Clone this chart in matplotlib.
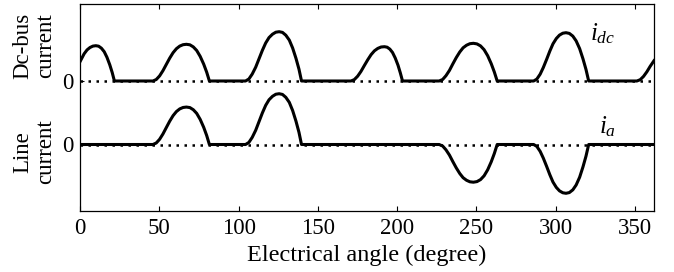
import matplotlib
matplotlib.use("Agg")
import matplotlib.pyplot as plt
import numpy as np

# ---------------- data ----------------
# x in electrical degrees, y in arbitrary current units
hump1_x = [0.0, 2.6, 4.45, 6.3, 8.15, 10.0, 11.76, 13.5, 15.27, 17.0, 18.78, 20.3, 21.7]
hump1_y = [1.93, 2.72, 3.11, 3.35, 3.49, 3.53, 3.48, 3.28, 2.93, 2.37, 1.62, 0.85, 0.0]

hump2_x = [46.0, 48.1, 50.2, 52.3, 54.4, 56.55, 58.7, 60.8, 62.9, 65.0, 67.1,
           69.3, 71.45, 73.6, 75.8, 78.0, 79.9, 81.6]
hump2_y = [0.0, 0.15, 0.51, 1.03, 1.65, 2.28, 2.83, 3.23, 3.49, 3.63, 3.67,
           3.62, 3.41, 3.05, 2.46, 1.69, 0.88, 0.0]

hump3_x = [104.4, 106.5, 108.6, 110.8, 112.9, 115.0, 117.1, 119.2, 121.4, 123.5, 125.6,
           127.7, 129.8, 132.0, 134.1, 136.2, 138.1, 139.7]
hump3_y = [0.0, 0.20, 0.69, 1.38, 2.22, 3.06, 3.80, 4.34, 4.68, 4.88, 4.93,
           4.86, 4.58, 4.09, 3.30, 2.27, 1.18, 0.0]

hump4_x = [170.9, 173.0, 175.1, 177.2, 179.3, 181.5, 183.6, 185.7, 187.8, 189.9, 192.0,
           193.7, 195.4, 197.1, 198.8, 200.55, 202.0, 203.4]
hump4_y = [0.0, 0.14, 0.48, 0.96, 1.54, 2.13, 2.64, 3.02, 3.26, 3.40, 3.43,
           3.38, 3.19, 2.85, 2.30, 1.58, 0.82, 0.0]

hump5_x = [226.5, 228.7, 230.8, 233.0, 235.1, 237.3, 239.5, 241.6, 243.8, 245.9, 248.1,
           250.35, 252.6, 254.85, 257.1, 259.35, 261.3, 263.1]
hump5_y = [0.0, 0.15, 0.53, 1.06, 1.70, 2.34, 2.90, 3.32, 3.58, 3.73, 3.77,
           3.71, 3.51, 3.13, 2.53, 1.73, 0.90, 0.0]

hump6_x = [286.1, 288.1, 290.2, 292.2, 294.3, 296.3, 298.3, 300.4, 302.4, 304.5, 306.5,
           308.6, 310.8, 312.9, 315.1, 317.2, 319.1, 320.8]
hump6_y = [0.0, 0.19, 0.68, 1.35, 2.17, 2.99, 3.72, 4.25, 4.59, 4.78, 4.83,
           4.76, 4.49, 4.01, 3.24, 2.22, 1.16, 0.0]

hump7_x = [351.2, 353.3, 355.4, 357.5, 359.6, 362.0]
hump7_y = [0.0, 0.13, 0.46, 0.92, 1.47, 2.03]

# line current: +idc during humps 2,3 ; -idc during humps 5,6
ia_scale = [1.02, 1.03, -1.0, -1.01]

x_ticks = [0, 50, 100, 150, 200, 250, 300, 350]
x_limits = (0, 362)

# ---------------- build series ----------------
dc_offset = 6.35  # vertical offset of the dc-bus trace

idc_x = np.concatenate([hump1_x, hump2_x, hump3_x, hump4_x, hump5_x, hump6_x, hump7_x])
idc_y = np.concatenate([hump1_y, hump2_y, hump3_y, hump4_y, hump5_y, hump6_y, hump7_y])

ia_x = np.concatenate([[0.0], hump2_x, hump3_x, hump5_x, hump6_x, [362.0]])
ia_y = np.concatenate([[0.0],
                       np.array(hump2_y) * ia_scale[0],
                       np.array(hump3_y) * ia_scale[1],
                       np.array(hump5_y) * ia_scale[2],
                       np.array(hump6_y) * ia_scale[3],
                       [0.0]])

# ---------------- figure ----------------
plt.rcParams['font.family'] = ['Liberation Serif', 'DejaVu Serif']
plt.rcParams['mathtext.fontset'] = 'custom'
plt.rcParams['mathtext.it'] = 'Liberation Serif:italic'
plt.rcParams['mathtext.rm'] = 'Liberation Serif'

fig = plt.figure(figsize=(6.74, 2.72), dpi=100)
ax = fig.add_axes([80 / 674, 1 - 211 / 272, (654 - 80) / 674, (211 - 4) / 272])

# dotted zero lines
ax.plot(x_limits, [dc_offset, dc_offset], color='black', lw=1.8,
        linestyle=(0, (1, 2.2)), dash_capstyle='butt')
ax.plot(x_limits, [0, 0], color='black', lw=1.8,
        linestyle=(0, (1, 2.2)), dash_capstyle='butt')

# traces
ax.plot(idc_x, idc_y + dc_offset, color='black', lw=2.2, solid_joinstyle='round')
ax.plot(ia_x, ia_y, color='black', lw=2.2, solid_joinstyle='round')

ax.set_xlim(*x_limits)
ax.set_ylim(-6.65, 14.05)
ax.set_xticks(x_ticks)
ax.set_xticklabels([str(t) for t in x_ticks])
ax.set_yticks([0, dc_offset])
ax.set_yticklabels(['0', '0'])

ax.tick_params(axis='x', direction='in', top=True, bottom=True, length=3.5,
               width=0.8, labelsize=16.5, pad=5)
ax.tick_params(axis='y', direction='in', left=True, right=False, length=3,
               width=0.8, labelsize=16.5, pad=5)
for s in ax.spines.values():
    s.set_linewidth(0.9)

ax.set_xlabel('Electrical angle (degree)', fontsize=17.5, labelpad=4)

# y labels (two-line, rotated)
fig.text(34 / 674, 1 - 46 / 272, 'Dc-bus\ncurrent', rotation=90, ha='center',
         va='center', fontsize=16.5, linespacing=1.1)
fig.text(34 / 674, 1 - 152 / 272, 'Line\ncurrent', rotation=90, ha='center',
         va='center', fontsize=16.5, linespacing=1.1)

# trace labels
ax.text(321.5, 10.45, r'$i_{dc}$', fontsize=18, ha='left', va='baseline')
ax.text(327.0, 1.15, r'$i_{a}$', fontsize=18, ha='left', va='baseline')

fig.savefig('out.png', dpi=100)
